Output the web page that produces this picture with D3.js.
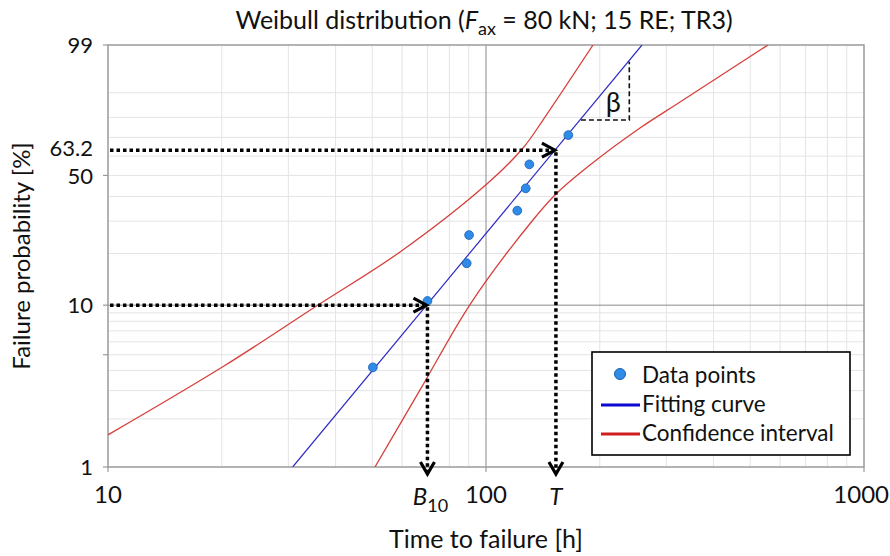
<!DOCTYPE html>
<html>
<head>
<meta charset="utf-8">
<script src="https://cdn.jsdelivr.net/npm/d3@7"></script>
<style>
  html, body { margin: 0; padding: 0; background: #fff; }
  svg text { font-family: Lato, "Open Sans", sans-serif; fill: #111; }
</style>
</head>
<body>
<svg id="chart" width="890" height="556"></svg>
<script>
// ---------- data ----------
const xTickValues = [10, 100, 1000];
const xMinorValues = [20, 30, 40, 50, 60, 70, 80, 90, 200, 300, 400, 500, 600, 700, 800, 900];
const yTickLabelValues = [1, 10, 50, 63.2, 99];
const yTickMarkValues = [1, 5, 10, 50, 99];
const yMinorValues = [2, 3, 4, 5, 6, 7, 8, 9, 20, 30, 40, 50, 60, 70, 80, 90];
const yMajorValues = [10];
const xMajorValues = [100];

const pointTimes = [50.2, 70.0, 88.9, 90.2, 121.0, 127.4, 130.2, 165.1];
const pointProbs = [4.18, 10.59, 17.6, 25.3, 34.0, 43.7, 55.7, 71.2];

const fitTimes = [30.8, 258.6];
const fitProbs = [1, 99];

const upperTimes = [10, 20.27, 35.94, 59.23, 101.2, 125.3, 141.5, 191.9];
const upperProbs = [1.59, 4.26, 10.02, 20.39, 46.25, 64.37, 78.77, 99];

const lowerTimes = [50.85, 66.91, 91.26, 133.1, 154.1, 188.4, 255.5, 326.1, 557.2];
const lowerProbs = [1, 3.03, 10.30, 30.43, 41.55, 55.36, 74.84, 86.64, 99];

const B10 = 70.0, B10Prob = 10;
const Tchar = 153.1, TProb = 63.2;

const betaTimes = [178.3, 239.4];
const betaProbs = [78.8, 97.3];

// ---------- layout ----------
const svg = d3.select("#chart");
const W = 890;
const L = 108, R = 864, TOP = 45, BOT = 467;

const x = d3.scaleLog().domain([10, 1000]).range([L, R]);
const weib = p => Math.log(-Math.log(1 - p / 100));
const yLin = d3.scaleLinear().domain([weib(1), weib(99)]).range([BOT, TOP]);
const y = p => yLin(weib(p));

const g = svg.append("g");

// minor grid
g.selectAll(".vminor").data(xMinorValues).enter().append("line")
  .attr("x1", d => x(d)).attr("x2", d => x(d)).attr("y1", TOP).attr("y2", BOT)
  .attr("stroke", "#e4e4e4").attr("stroke-width", 1);
g.selectAll(".hminor").data(yMinorValues).enter().append("line")
  .attr("x1", L).attr("x2", R).attr("y1", d => y(d)).attr("y2", d => y(d))
  .attr("stroke", "#e4e4e4").attr("stroke-width", 1);
// major grid
g.selectAll(".vmajor").data(xMajorValues).enter().append("line")
  .attr("x1", d => x(d)).attr("x2", d => x(d)).attr("y1", TOP).attr("y2", BOT)
  .attr("stroke", "#8a8a8a").attr("stroke-width", 1);
g.selectAll(".hmajor").data(yMajorValues).enter().append("line")
  .attr("x1", L).attr("x2", R).attr("y1", d => y(d)).attr("y2", d => y(d))
  .attr("stroke", "#8a8a8a").attr("stroke-width", 1);

// frame
g.append("rect").attr("x", L).attr("y", TOP).attr("width", R - L).attr("height", BOT - TOP)
  .attr("fill", "none").attr("stroke", "#9a9a9a").attr("stroke-width", 1.5);

// axis ticks
g.selectAll(".ytick").data(yTickMarkValues).enter().append("line")
  .attr("x1", L - 5).attr("x2", L).attr("y1", d => y(d)).attr("y2", d => y(d))
  .attr("stroke", "#9a9a9a").attr("stroke-width", 1.2);
g.selectAll(".xtick").data(xTickValues).enter().append("line")
  .attr("x1", d => x(d)).attr("x2", d => x(d)).attr("y1", BOT).attr("y2", BOT + 5)
  .attr("stroke", "#9a9a9a").attr("stroke-width", 1.2);

// clip
svg.append("clipPath").attr("id", "plotclip").append("rect")
  .attr("x", L).attr("y", TOP).attr("width", R - L).attr("height", BOT - TOP);

const line = d3.line().x(d => x(d[0])).y(d => y(d[1])).curve(d3.curveCatmullRom.alpha(0.5));
const zip = (a, b) => a.map((v, i) => [v, b[i]]);

const curves = g.append("g").attr("clip-path", "url(#plotclip)");
curves.append("path").datum(zip(upperTimes, upperProbs)).attr("d", line)
  .attr("fill", "none").attr("stroke", "#d7403c").attr("stroke-width", 1.3);
curves.append("path").datum(zip(lowerTimes, lowerProbs)).attr("d", line)
  .attr("fill", "none").attr("stroke", "#d7403c").attr("stroke-width", 1.3);
curves.append("path").datum(zip(fitTimes, fitProbs)).attr("d", d3.line().x(d => x(d[0])).y(d => y(d[1])))
  .attr("fill", "none").attr("stroke", "#2b2bc4").attr("stroke-width", 1.2);

// beta triangle
const betaPts = [[betaTimes[0], betaProbs[0]], [betaTimes[1], betaProbs[0]], [betaTimes[1], betaProbs[1]]];
g.append("path").datum(betaPts).attr("d", d3.line().x(d => x(d[0])).y(d => y(d[1])))
  .attr("fill", "none").attr("stroke", "#111").attr("stroke-width", 1.6).attr("stroke-dasharray", "5,3");
g.append("text").attr("x", x(betaTimes[1]) - 16).attr("y", y(betaProbs[0]) - 8)
  .attr("text-anchor", "middle").attr("font-size", 27).text("β");

// data points
g.selectAll(".pt").data(zip(pointTimes, pointProbs)).enter().append("circle")
  .attr("cx", d => x(d[0])).attr("cy", d => y(d[1])).attr("r", 4.4)
  .attr("fill", "#2e8be8").attr("stroke", "#1a5fb0").attr("stroke-width", 0.8);

// dotted arrows
const dotted = (x1, y1, x2, y2) => g.append("line")
  .attr("x1", x1).attr("y1", y1).attr("x2", x2).attr("y2", y2)
  .attr("stroke", "#000").attr("stroke-width", 3.5).attr("stroke-dasharray", "3.5,3");
const chevR = (tx, ty) => g.append("path")
  .attr("d", `M${tx - 13},${ty - 7}L${tx},${ty}L${tx - 13},${ty + 7}`)
  .attr("fill", "none").attr("stroke", "#000").attr("stroke-width", 3.2);
const chevD = (tx, ty) => g.append("path")
  .attr("d", `M${tx - 7},${ty - 12}L${tx},${ty}L${tx + 7},${ty - 12}`)
  .attr("fill", "none").attr("stroke", "#000").attr("stroke-width", 3.2);

[[B10, B10Prob], [Tchar, TProb]].forEach(([t, p]) => {
  const px = x(t), py = y(p);
  dotted(L + 2, py, px - 3, py);
  chevR(px - 1, py);
  dotted(px, py + 2, px, BOT + 4);
  chevD(px, BOT + 7);
});

// tick labels
const fs = 24;
const yLabelNudge = { 63.2: -2, 50: 1 };
g.selectAll(".ylab").data(yTickLabelValues).enter().append("text")
  .attr("x", 93).attr("y", d => y(d) + (yLabelNudge[d] || 0)).attr("dy", "0.35em").attr("text-anchor", "end")
  .attr("font-size", 22).text(d => d);
g.selectAll(".xlab").data(xTickValues).enter().append("text")
  .attr("x", d => d === 1000 ? W - 1 : x(d)).attr("y", 503)
  .attr("text-anchor", d => d === 1000 ? "end" : "middle")
  .attr("font-size", fs).text(d => d);

// B10 and T labels
const b10 = g.append("text").attr("x", x(B10) + 3).attr("y", 505).attr("text-anchor", "middle").attr("font-size", fs);
b10.append("tspan").attr("font-style", "italic").text("B");
b10.append("tspan").attr("dy", 7).attr("font-size", 18).text("10");
g.append("text").attr("x", x(Tchar)).attr("y", 505).attr("text-anchor", "middle")
  .attr("font-size", fs).attr("font-style", "italic").text("T");

// axis titles
g.append("text").attr("x", 486).attr("y", 548).attr("text-anchor", "middle")
  .attr("font-size", 25).text("Time to failure [h]");
g.append("text").attr("transform", "translate(30,256) rotate(-90)").attr("text-anchor", "middle")
  .attr("font-size", 24).text("Failure probability [%]");

// title
const title = g.append("text").attr("x", 484).attr("y", 29).attr("text-anchor", "middle").attr("font-size", 25);
title.append("tspan").text("Weibull distribution (");
title.append("tspan").attr("font-style", "italic").text("F");
title.append("tspan").attr("dy", 6).attr("font-size", 18).text("ax");
title.append("tspan").attr("dy", -6).text(" = 80 kN; 15 RE; TR3)");

// legend
const lg = g.append("g");
lg.append("rect").attr("x", 592).attr("y", 352).attr("width", 258).attr("height", 103)
  .attr("fill", "#fff").attr("stroke", "#000").attr("stroke-width", 1.6);
lg.append("circle").attr("cx", 620).attr("cy", 374).attr("r", 5.5)
  .attr("fill", "#2e8be8").attr("stroke", "#1a5fb0").attr("stroke-width", 1);
lg.append("line").attr("x1", 601).attr("x2", 640).attr("y1", 405).attr("y2", 405)
  .attr("stroke", "#0a0ad0").attr("stroke-width", 3);
lg.append("line").attr("x1", 601).attr("x2", 640).attr("y1", 434).attr("y2", 434)
  .attr("stroke", "#d01e1e").attr("stroke-width", 3);
const legTexts = ["Data points", "Fitting curve", "Confidence interval"];
const legY = [375, 404, 433];
lg.selectAll(".lt").data(legTexts).enter().append("text")
  .attr("x", 642).attr("y", (d, i) => legY[i]).attr("dy", "0.35em")
  .attr("font-size", 22.5).text(d => d);
</script>
</body>
</html>
